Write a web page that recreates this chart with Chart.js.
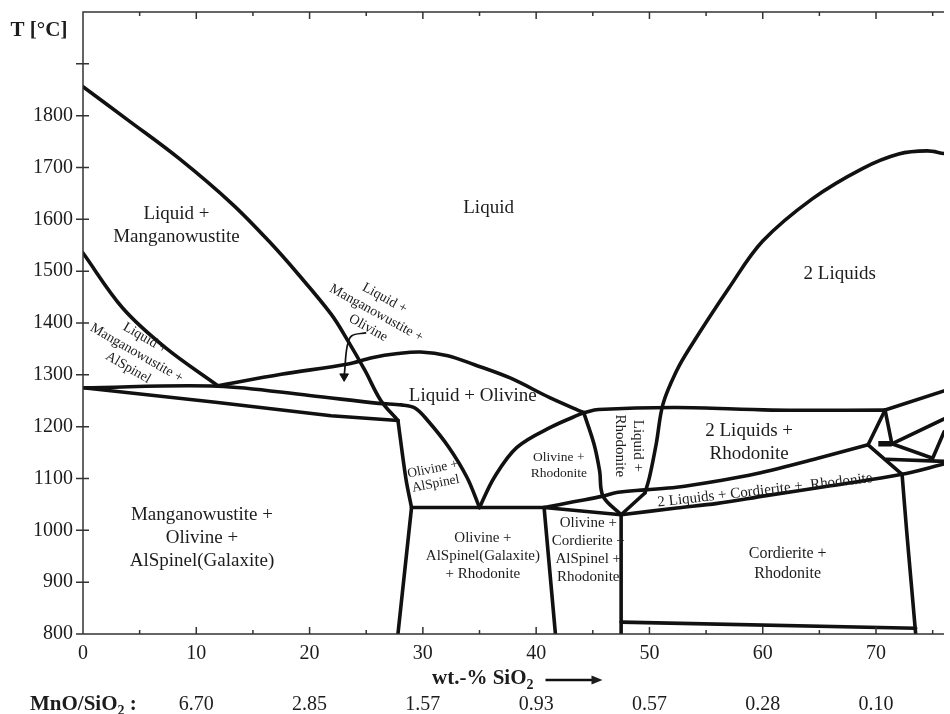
<!DOCTYPE html>
<html>
<head>
<meta charset="utf-8">
<script src="https://cdn.jsdelivr.net/npm/chart.js@4.4.0/dist/chart.umd.min.js"></script>
<style>
  html, body { margin: 0; padding: 0; background: #fff; overflow: hidden; }
  #wrap { width: 950px; height: 714px; }
</style>
</head>
<body>
<div id="wrap"><canvas id="phase"></canvas></div>
<script>
// phase boundaries, [wt.-% SiO2, T in °C]
const liquidusMW = [[0,1856],[4,1791],[8.5,1717],[13.2,1629],[16.4,1558],[19,1494],[21.9,1417],[23.4,1365],[24.9,1308],[26.3,1250],[27.8,1212]];
const spinelLiquidus = [[0,1535],[3.5,1429],[7.3,1352],[11.9,1279]];
const spinelSolidusUpper = [[0,1275],[11.9,1278],[20,1260],[26.1,1245],[28.1,1242],[29.3,1236],[30.5,1210],[32.3,1160],[33.9,1102],[35,1044]];
const spinelSolidusLower = [[0,1275],[11.7,1247],[21.9,1221],[27.8,1212]];
const olivineLiquidus = [[11.9,1279],[17.5,1301],[23.4,1321],[25.5,1333],[27.8,1341],[29.8,1344],[32.2,1337],[34.5,1320],[37.7,1294],[41.2,1256],[44.2,1227]];
const olivineRhodonite = [[35,1044],[36.3,1102],[38.3,1160],[41.3,1199],[44.2,1227]];
const rhodoniteLeft = [[44.2,1227],[45.1,1167],[45.6,1115],[45.9,1066],[47.5,1030]];
const monotectic = [[44.2,1227],[45.5,1233],[52.4,1237],[60.8,1232],[70.8,1232]];
const lensRight = [[47.5,1030],[49.6,1072]];
const twoLiquidDome = [[49.6,1072],[50,1102],[50.6,1167],[51.2,1244],[52.4,1308],[53.5,1350],[57,1467],[60,1558],[64.4,1640],[68.8,1698],[72,1726],[74.5,1732],[76,1727]];
const bandUpper = [[40.7,1044],[43.3,1055],[45.9,1066],[47.1,1073],[49.6,1078],[52.4,1083],[56,1095],[59.4,1109],[65.2,1141],[69.3,1165]];
const bandLower = [[47.5,1030],[52.4,1043],[56,1052],[60.3,1067],[66,1086],[72.3,1108],[76,1128]];
const olivineCordierite = [[40.7,1044],[47.5,1030]];
const galaxiteUpper = [[27.8,1212],[28.5,1100],[29,1044]];
const galaxiteLower = [[29,1044],[27.8,800]];
const eutecticLine = [[29,1044],[40.7,1044]];
const rhodoniteLine = [[40.7,1044],[41.7,800]];
const cordieriteLeft = [[47.5,1030],[47.5,800]];
const cordieriteBase = [[47.5,823],[73.5,811]];
const cordieriteTop = [[69.3,1165],[72.3,1108]];
const cordieriteRight = [[72.3,1108],[72.7,1000],[73.1,900],[73.5,800]];
const edgeA = [[70.8,1232],[76,1269]];
const edgeB = [[70.8,1232],[69.3,1165]];
const edgeC = [[70.8,1232],[71.4,1167]];
const edgeD = [[70.2,1167],[71.4,1167]];
const edgeE = [[71.4,1167],[76,1215]];
const edgeF = [[71.4,1167],[75,1139],[76,1190]];
const edgeG = [[70.9,1137],[76,1133]];
const arrowPath = [[25,1381],[23.7,1375],[23.3,1353],[23.1,1308],[23.05,1297]];

// axes
const xTickValues = [0, 10, 20, 30, 40, 50, 60, 70];
const ratioLabels = ['', '6.70', '2.85', '1.57', '0.93', '0.57', '0.28', '0.10'];
const yTickValues = [800, 900, 1000, 1100, 1200, 1300, 1400, 1500, 1600, 1700, 1800, 1900];

const curved = [liquidusMW, spinelLiquidus, spinelSolidusUpper, olivineLiquidus, olivineRhodonite,
  rhodoniteLeft, monotectic, twoLiquidDome, bandUpper, bandLower, galaxiteUpper, cordieriteRight];
const straight = [spinelSolidusLower, lensRight, olivineCordierite, galaxiteLower, eutecticLine,
  rhodoniteLine, cordieriteLeft, cordieriteBase, cordieriteTop, edgeA, edgeB, edgeC, edgeE, edgeF, edgeG];

// region names, placed in data units
const regionNotes = [
  {at: [8.25, 1589], lines: ['Liquid +', 'Manganowustite'], size: 19, lh: 23},
  {at: [35.8, 1621], lines: ['Liquid'], size: 19},
  {at: [66.8, 1494], lines: ['2 Liquids'], size: 19},
  {at: [34.4, 1260], lines: ['Liquid + Olivine'], size: 19},
  {at: [25.9, 1419], lines: ['Liquid +', 'Manganowustite +', 'Olivine'], size: 14, lh: 17, angle: 29},
  {at: [4.74, 1342], lines: ['Liquid +', 'Manganowustite +', 'AlSpinel'], size: 14, lh: 17, angle: 30},
  {at: [31.0, 1104], lines: ['Olivine +', 'AlSpinel'], size: 13.5, lh: 15, angle: -11},
  {at: [42.0, 1125], lines: ['Olivine +', 'Rhodonite'], size: 13.5, lh: 16},
  {at: [47.4, 1163], lines: ['Rhodonite'], size: 15, angle: 90},
  {at: [49.0, 1163], lines: ['Liquid +'], size: 15, angle: 90},
  {at: [58.8, 1170], lines: ['2 Liquids +', 'Rhodonite'], size: 19, lh: 23},
  {at: [60.2, 1077], lines: ['2 Liquids + Cordierite +  Rhodonite'], size: 15, angle: -6.5},
  {at: [10.5, 986], lines: ['Manganowustite +', 'Olivine +', 'AlSpinel(Galaxite)'], size: 19, lh: 23},
  {at: [35.3, 950], lines: ['Olivine +', 'AlSpinel(Galaxite)', '+ Rhodonite'], size: 15, lh: 18},
  {at: [44.6, 962], lines: ['Olivine +', 'Cordierite +', 'AlSpinel +', 'Rhodonite'], size: 15, lh: 17.7},
  {at: [62.2, 935], lines: ['Cordierite +', 'Rhodonite'], size: 16, lh: 20}
];

const SERIF = '"Liberation Serif", "DejaVu Serif", serif';
const INK = '#1c1c1c';

function toPoints(arr) {
  return arr.map(([x, y]) => ({x, y}));
}

const datasets = [];
curved.forEach(p => datasets.push({data: toPoints(p), tension: 0.35}));
straight.forEach(p => datasets.push({data: toPoints(p), tension: 0}));
datasets.forEach(d => Object.assign(d, {
  showLine: true, borderColor: '#111', borderWidth: 3.6, pointRadius: 0,
  borderJoinStyle: 'round', borderCapStyle: 'round'
}));
datasets.push({
  data: toPoints(edgeD), showLine: true, borderColor: '#111', borderWidth: 5.5, pointRadius: 0, tension: 0
});
datasets.push({
  data: toPoints(arrowPath), showLine: true, borderColor: '#111', borderWidth: 1.7, tension: 0.35,
  pointRadius: arrowPath.map((_, i) => i === arrowPath.length - 1 ? 5 : 0),
  pointStyle: 'triangle', pointRotation: 180,
  pointBackgroundColor: '#111', pointBorderColor: '#111', pointBorderWidth: 1
});

function subText(ctx, x, y, parts) {
  // parts: [text, isSub]
  let cx = x;
  parts.forEach(([t, sub]) => {
    ctx.font = sub ? 'bold 14px ' + SERIF : 'bold 21px ' + SERIF;
    ctx.fillText(t, cx, sub ? y + 6 : y);
    cx += ctx.measureText(t).width;
  });
  return cx;
}

const framePlugin = {
  id: 'frame',
  afterDraw(chart) {
    const {ctx, chartArea: a, scales: {x, y}} = chart;
    ctx.save();
    ctx.strokeStyle = '#333';
    ctx.lineWidth = 1.5;
    ctx.beginPath();
    ctx.moveTo(a.left, a.bottom); ctx.lineTo(a.right, a.bottom);
    ctx.moveTo(a.left, a.bottom); ctx.lineTo(a.left, a.top); ctx.lineTo(a.right, a.top);
    // y ticks cross the axis
    yTickValues.forEach(v => {
      const py = y.getPixelForValue(v);
      ctx.moveTo(a.left - 7, py); ctx.lineTo(a.left + 6, py);
    });
    // bottom and top ticks point inwards
    for (let v = 5; v <= x.max; v += 5) {
      const px = x.getPixelForValue(v);
      const len = v % 10 === 0 ? 7 : 4;
      ctx.moveTo(px, a.bottom); ctx.lineTo(px, a.bottom - len);
      ctx.moveTo(px, a.top); ctx.lineTo(px, a.top + len);
    }
    ctx.stroke();

    // region names
    ctx.fillStyle = INK;
    ctx.textAlign = 'center';
    ctx.textBaseline = 'middle';
    regionNotes.forEach(n => {
      const px = x.getPixelForValue(n.at[0]);
      const py = y.getPixelForValue(n.at[1]);
      ctx.save();
      ctx.translate(px, py);
      ctx.rotate((n.angle || 0) * Math.PI / 180);
      ctx.font = n.size + 'px ' + SERIF;
      const k = n.lines.length;
      n.lines.forEach((t, i) => ctx.fillText(t, 0, (i - (k - 1) / 2) * (n.lh || 20)));
      ctx.restore();
    });

    // axis titles
    ctx.textAlign = 'center';
    ctx.font = 'bold 21px ' + SERIF;
    ctx.fillText('T [°C]', 39, 31);

    ctx.textAlign = 'left';
    const end = subText(ctx, 432, 679, [['wt.-% SiO', false], ['2', true]]);
    const ax0 = end + 12, ax1 = ax0 + 57;
    ctx.beginPath();
    ctx.lineWidth = 2.6;
    ctx.strokeStyle = '#111';
    ctx.moveTo(ax0, 680); ctx.lineTo(ax1 - 8, 680);
    ctx.stroke();
    ctx.beginPath();
    ctx.moveTo(ax1, 680); ctx.lineTo(ax1 - 11, 675.5); ctx.lineTo(ax1 - 11, 684.5); ctx.closePath();
    ctx.fill();

    subText(ctx, 30, 705, [['MnO/SiO', false], ['2', true], [' :', false]]);

    ctx.textAlign = 'center';
    ctx.font = '20px ' + SERIF;
    xTickValues.forEach((v, i) => {
      if (ratioLabels[i]) ctx.fillText(ratioLabels[i], x.getPixelForValue(v), 705);
    });
    ctx.restore();
  }
};

new Chart(document.getElementById('phase'), {
  type: 'scatter',
  data: {datasets},
  options: {
    responsive: true,
    maintainAspectRatio: false,
    animation: false,
    layout: {padding: {top: 12, left: 0, right: 0, bottom: 0}},
    plugins: {legend: {display: false}, tooltip: {enabled: false}},
    scales: {
      x: {
        type: 'linear', min: 0, max: 76,
        afterFit: s => { s.height = 80; s.paddingLeft = 0; s.paddingRight = 0; },
        afterBuildTicks: s => { s.ticks = xTickValues.map(v => ({value: v})); },
        grid: {display: false, drawTicks: false},
        border: {display: false},
        ticks: {padding: 8, color: INK, font: {family: SERIF, size: 20}, maxRotation: 0}
      },
      y: {
        type: 'linear', min: 800, max: 2000,
        afterFit: s => { s.width = 83; s.paddingTop = 0; s.paddingBottom = 0; },
        afterBuildTicks: s => { s.ticks = yTickValues.map(v => ({value: v})); },
        grid: {display: false, drawTicks: false},
        border: {display: false},
        ticks: {
          padding: 10, color: INK, font: {family: SERIF, size: 20},
          callback: v => v <= 1800 ? String(v) : ''
        }
      }
    }
  },
  plugins: [framePlugin]
});
</script>
</body>
</html>
